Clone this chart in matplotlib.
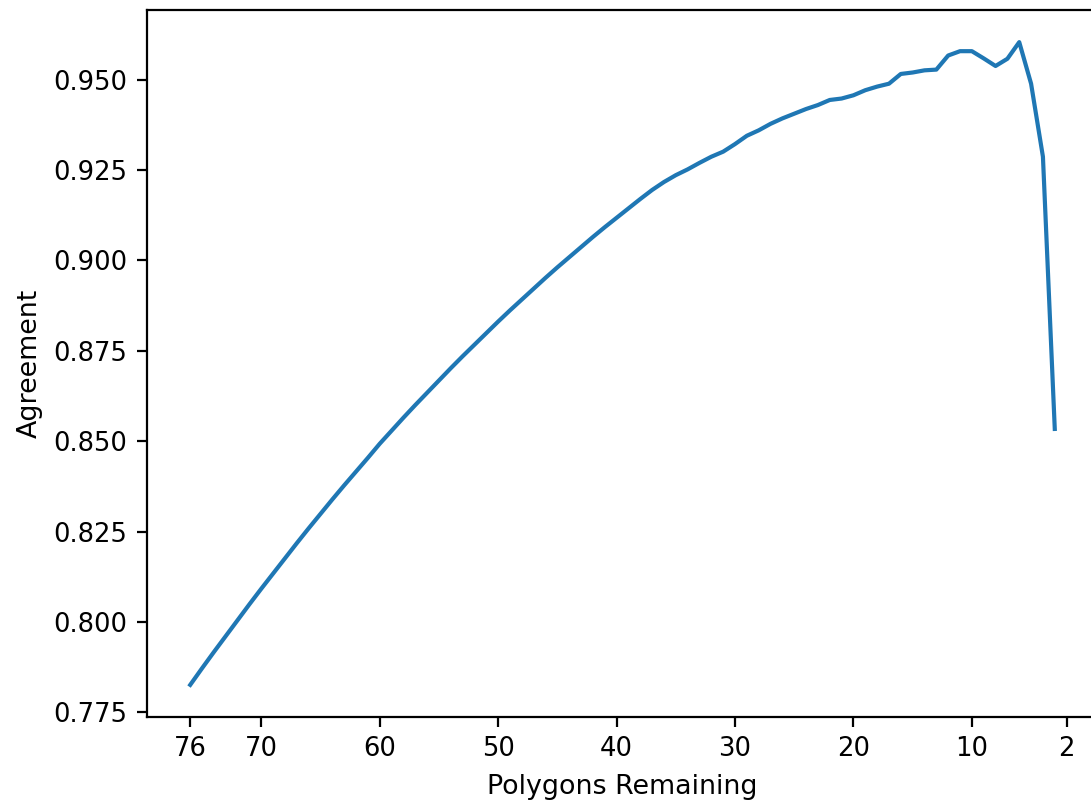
import matplotlib
matplotlib.use("Agg")
import matplotlib.pyplot as plt

# Polygons remaining (x) and agreement score (y)
polygons = [76, 75, 74, 73, 72, 71, 70, 69, 68, 67, 66, 65, 64, 63, 62, 61,
            60, 59, 58, 57, 56, 55, 54, 53, 52, 51, 50, 49, 48, 47, 46, 45,
            44, 43, 42, 41, 40, 39, 38, 37, 36, 35, 34, 33, 32, 31, 30, 29,
            28, 27, 26, 25, 24, 23, 22, 21, 20, 19, 18, 17, 16, 15, 14, 13,
            12, 11, 10, 9, 8, 7, 6, 5, 4, 3]
agreement = [0.7826, 0.7872, 0.7917, 0.7961, 0.8005, 0.8049, 0.8092, 0.8134,
             0.8176, 0.8218, 0.8259, 0.8299, 0.8339, 0.8378, 0.8416, 0.8454,
             0.8493, 0.8529, 0.8565, 0.8600, 0.8634, 0.8668, 0.8702, 0.8735,
             0.8767, 0.8799, 0.8831, 0.8862, 0.8892, 0.8922, 0.8952, 0.8981,
             0.9009, 0.9037, 0.9065, 0.9092, 0.9118, 0.9144, 0.9170, 0.9195,
             0.9217, 0.9236, 0.9252, 0.9270, 0.9287, 0.9301, 0.9322, 0.9345,
             0.9360, 0.9378, 0.9393, 0.9406, 0.9419, 0.9430, 0.9444, 0.9448,
             0.9457, 0.9471, 0.9481, 0.9489, 0.9516, 0.9520, 0.9526, 0.9528,
             0.9567, 0.9579, 0.9579, 0.9559, 0.9538, 0.9558, 0.9604, 0.9489,
             0.9287, 0.8534]
xticks = [76, 70, 60, 50, 40, 30, 20, 10, 2]

DPI = 200
fig = plt.figure(figsize=(1091 / DPI, 805 / DPI), dpi=DPI)
# the reference is cropped on the right, so the axes run past the figure edge
ax = fig.add_axes([147 / 1091, 88 / 805, 951 / 1091, 707 / 805])

ax.plot(polygons, agreement)
ax.invert_xaxis()
ax.set_xticks(xticks)
ax.tick_params(labelsize=9.3)
ax.set_xlabel("Polygons Remaining", fontsize=9.7)
ax.set_ylabel("Agreement", fontsize=9.7)

fig.savefig("out.png", dpi=DPI)
